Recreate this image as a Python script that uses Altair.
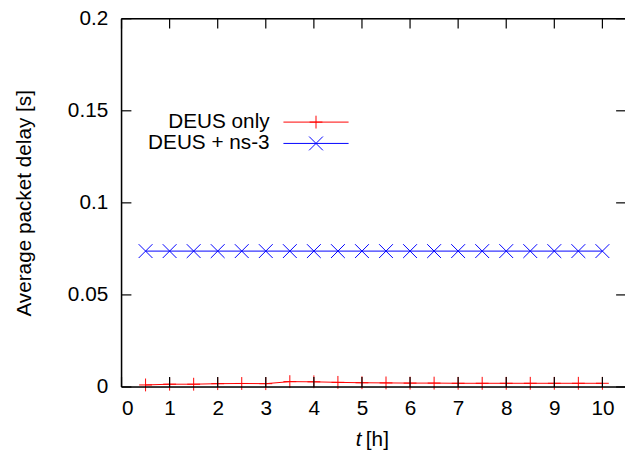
import altair as alt
import pandas as pd

# ---- data ----
t_hours = [0.5, 1, 1.5, 2, 2.5, 3, 3.5, 4, 4.5, 5, 5.5, 6, 6.5, 7, 7.5, 8, 8.5, 9, 9.5, 10]
deus_only = [0.0011, 0.0015, 0.0015, 0.0018, 0.0019, 0.0018, 0.0029, 0.0028, 0.0025, 0.0023,
             0.0022, 0.0021, 0.0021, 0.0020, 0.0020, 0.0020, 0.0020, 0.0020, 0.0020, 0.0020]
deus_ns3 = [0.0738, 0.0738, 0.0738, 0.0738, 0.0738, 0.0738, 0.0738, 0.0738, 0.0738, 0.0738,
            0.0738, 0.0738, 0.0738, 0.0738, 0.0738, 0.0738, 0.0738, 0.0738, 0.0738, 0.0738]
series_names = ["DEUS only", "DEUS + ns-3"]
series_colors = ["#ff0000", "#0000ff"]
x_ticks = [0, 1, 2, 3, 4, 5, 6, 7, 8, 9, 10]
y_ticks = [0, 0.05, 0.1, 0.15, 0.2]

W, H = 510, 373
FONT = "Liberation Sans"
FS = 21

df1 = pd.DataFrame({"t": t_hours, "v": deus_only})
df2 = pd.DataFrame({"t": t_hours, "v": deus_ns3})

xs = alt.Scale(domain=[0, 10.47], nice=False, zero=False)
ys = alt.Scale(domain=[0, 0.2], nice=False)

PLUS = "M-1,0L1,0M0,-1L0,1"
CROSS = "M-1,-1L1,1M-1,1L1,-1"

x_axis = alt.Axis(values=x_ticks, format="d", grid=False, ticks=False, tickSize=0, domain=False,
                  labelPadding=11, labelFontSize=FS, labelFont=FONT, labelColor="black", title=None)
y_axis = alt.Axis(values=y_ticks, format="~g", grid=False, ticks=False, tickSize=0, domain=False,
                  labelPadding=14, labelFontSize=FS, labelFont=FONT, labelColor="black",
                  title="Average packet delay [s]", titleFontSize=FS, titleFont=FONT,
                  titleFontWeight="normal", titleColor="black", titlePadding=33)

base1 = alt.Chart(df1)
line1 = base1.mark_line(color=series_colors[0], strokeWidth=1).encode(
    x=alt.X("t:Q", scale=xs, axis=x_axis), y=alt.Y("v:Q", scale=ys, axis=y_axis))
pts1 = base1.mark_point(shape=PLUS, size=169, color=series_colors[0], strokeWidth=1, filled=False, opacity=1).encode(
    x=alt.X("t:Q", scale=xs), y=alt.Y("v:Q", scale=ys))

base2 = alt.Chart(df2)
line2 = base2.mark_line(color=series_colors[1], strokeWidth=1).encode(
    x=alt.X("t:Q", scale=xs), y=alt.Y("v:Q", scale=ys))
pts2 = base2.mark_point(shape=CROSS, size=196, color=series_colors[1], strokeWidth=1, filled=False, opacity=1).encode(
    x=alt.X("t:Q", scale=xs), y=alt.Y("v:Q", scale=ys))

# ---- inward ticks (gnuplot style, mirrored) ----
xt = alt.Chart(pd.DataFrame({"x": x_ticks}))
yt = alt.Chart(pd.DataFrame({"y": y_ticks}))
tick_bottom = xt.mark_rule(color="black", strokeWidth=1.2).encode(
    x=alt.X("x:Q", scale=xs), y=alt.value(H), y2=alt.value(H - 10))
tick_top = xt.mark_rule(color="black", strokeWidth=1.2).encode(
    x=alt.X("x:Q", scale=xs), y=alt.value(0), y2=alt.value(10))
tick_left = yt.mark_rule(color="black", strokeWidth=1.2).encode(
    y=alt.Y("y:Q", scale=ys), x=alt.value(0), x2=alt.value(10))
tick_right = yt.mark_rule(color="black", strokeWidth=1.2).encode(
    y=alt.Y("y:Q", scale=ys), x=alt.value(W - 9), x2=alt.value(W + 2))

# ---- border ----
bd = alt.Chart(pd.DataFrame({"k": [0]}))
border_left = bd.mark_rule(color="black", strokeWidth=1.5).encode(x=alt.value(0), y=alt.value(0), y2=alt.value(H))
border_top = bd.mark_rule(color="black", strokeWidth=1.5).encode(y=alt.value(0), x=alt.value(0), x2=alt.value(W + 2))
border_bottom = bd.mark_rule(color="black", strokeWidth=1.5).encode(y=alt.value(H), x=alt.value(0), x2=alt.value(W + 2))

# ---- legend (gnuplot style: text then sample) ----
leg_layers = []
leg_y = [104.7, 126.3]
shapes = [PLUS, CROSS]
sizes = [169, 196]
for i, name in enumerate(series_names):
    ld = alt.Chart(pd.DataFrame({"name": [name]}))
    leg_layers.append(ld.mark_text(align="right", baseline="middle", font=FONT, fontSize=FS, color="black").encode(
        text="name:N", x=alt.value(150), y=alt.value(leg_y[i])))
    leg_layers.append(ld.mark_rule(color=series_colors[i], strokeWidth=1).encode(
        x=alt.value(164), x2=alt.value(230), y=alt.value(leg_y[i])))
    leg_layers.append(ld.mark_point(shape=shapes[i], size=sizes[i], color=series_colors[i], strokeWidth=1,
                                    filled=False, opacity=1).encode(x=alt.value(197), y=alt.value(leg_y[i])))

# ---- x title with italic t ----
xtitle_t = bd.mark_text(text="t", align="right", baseline="middle", font=FONT, fontSize=FS,
                        fontStyle="italic", color="black").encode(x=alt.value(243), y=alt.value(427))
xtitle_h = bd.mark_text(text="[h]", align="left", baseline="middle", font=FONT, fontSize=FS,
                        color="black").encode(x=alt.value(247.5), y=alt.value(427))

chart = alt.layer(
    line1, line2, pts1, pts2,
    tick_bottom, tick_top, tick_left, tick_right,
    border_left, border_top, border_bottom,
    *leg_layers, xtitle_t, xtitle_h,
).properties(
    width=W, height=H,
    autosize=alt.AutoSizeParams(type="none"),
    padding={"left": 115, "top": 8, "right": 0, "bottom": 64},
).configure_view(stroke=None).configure(background="white")

chart.save("out.html", embed_options={"renderer": "svg", "actions": False})
